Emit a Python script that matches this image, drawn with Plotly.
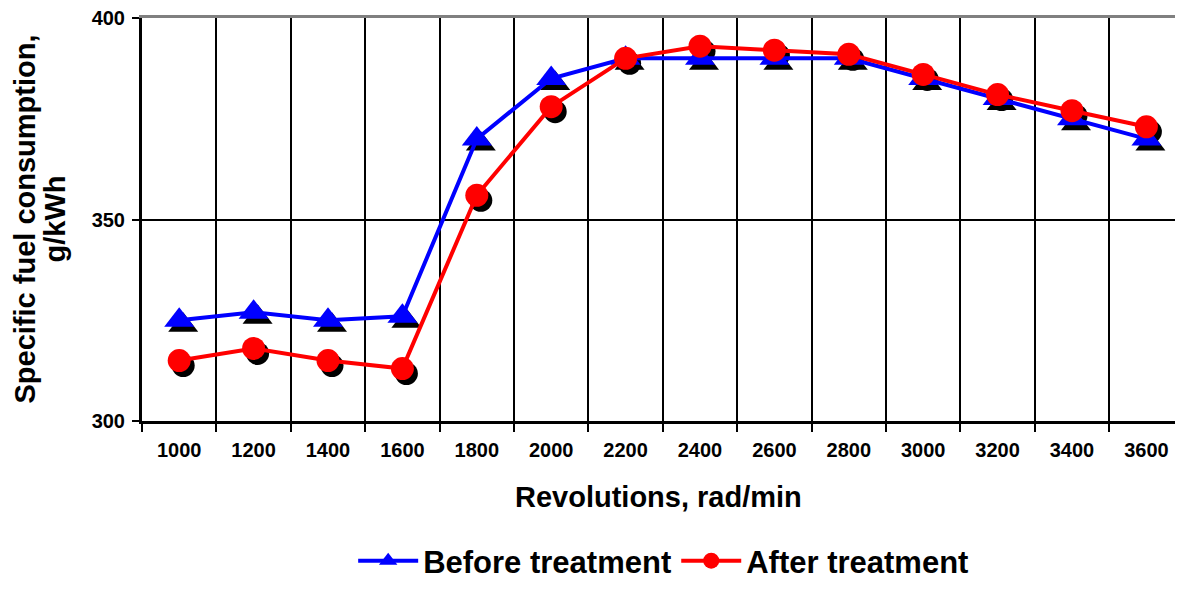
import plotly.graph_objects as go

revolutions = ["1000", "1200", "1400", "1600", "1800", "2000", "2200",
               "2400", "2600", "2800", "3000", "3200", "3400", "3600"]
before_treatment = [325, 327, 325, 326, 370, 385, 390, 390, 390, 390, 385, 380, 375, 370]
after_treatment = [315, 318, 315, 313, 356, 378, 390, 393, 392, 391, 386, 381, 377, 373]

FONT = "Liberation Sans"
W, H = 1167, 572
ML, MR, MT, MB = 134, 0, 10, 159
plot_w = W - ML - MR
plot_h = H - MT - MB
n = len(revolutions)
cat_px = 74.4                       # width of one category in pixels
x_hi = -0.5 + plot_w / cat_px       # right end of category range
ymin, ymax = 300, 400
# shadow offset in pixels (converted to axis units)
dx_px, dy_px = 4, 5
dx = dx_px / cat_px
dy = dy_px * (ymax - ymin) / plot_h

fig = go.Figure()

# shadows (base axes, ranges shifted)
fig.add_trace(go.Scatter(x=revolutions, y=before_treatment, mode="markers",
                         marker=dict(symbol="triangle-up", size=26, color="black"),
                         xaxis="x", yaxis="y", showlegend=False, hoverinfo="skip"))
fig.add_trace(go.Scatter(x=revolutions, y=after_treatment, mode="markers",
                         marker=dict(symbol="circle", size=23, color="black"),
                         xaxis="x", yaxis="y", showlegend=False, hoverinfo="skip"))

# main series (overlay axes)
fig.add_trace(go.Scatter(x=revolutions, y=before_treatment, mode="lines+markers",
                         name="Before treatment",
                         line=dict(color="#0000FF", width=4),
                         marker=dict(symbol="triangle-up", size=26, color="#0000FF"),
                         xaxis="x2", yaxis="y2"))
fig.add_trace(go.Scatter(x=revolutions, y=after_treatment, mode="lines+markers",
                         name="After treatment",
                         line=dict(color="#FF0000", width=4),
                         marker=dict(symbol="circle", size=23, color="#FF0000"),
                         xaxis="x2", yaxis="y2"))

tickfont = dict(family=FONT, size=20, color="black", weight="bold")
titlefont = dict(family=FONT, size=29, color="black", weight="bold")

fig.update_layout(
    width=W, height=H,
    margin=dict(l=ML, r=MR, t=MT, b=MB, autoexpand=False),
    paper_bgcolor="white", plot_bgcolor="white",
    font=dict(family=FONT, color="black"),
    xaxis=dict(type="category", range=[-0.5 - dx, x_hi - dx],
               side="top", showline=True, linecolor="#808080", linewidth=3,
               showticklabels=False, ticks="", showgrid=False, zeroline=False,
               automargin=False),
    yaxis=dict(range=[ymin + dy, ymax + dy], showline=False, showticklabels=False,
               ticks="", showgrid=False, zeroline=False, automargin=False),
    xaxis2=dict(type="category", overlaying="x", anchor="y2", side="bottom",
                range=[-0.5, x_hi], tickson="boundaries",
                showline=True, linecolor="black", linewidth=3,
                ticks="outside", ticklen=8, tickwidth=2, tickcolor="black",
                showgrid=True, gridcolor="black", gridwidth=2,
                tickfont=tickfont, ticklabelstandoff=9,
                zeroline=False, automargin=False),
    yaxis2=dict(overlaying="y", anchor="x2", side="left",
                range=[ymin, ymax], tickvals=[300, 350, 400],
                showline=True, linecolor="black", linewidth=3,
                ticks="outside", ticklen=7, tickwidth=2, tickcolor="black",
                showgrid=True, gridcolor="black", gridwidth=2,
                tickfont=tickfont, ticklabelstandoff=3,
                ticklabeloverflow="allow",
                zeroline=False, automargin=False),
    legend=dict(orientation="h", x=0.505, xanchor="center",
                y=-140 / plot_h, yanchor="middle",
                font=dict(family=FONT, size=31, color="black", weight="bold"),
                itemwidth=60, bgcolor="rgba(0,0,0,0)"),
    showlegend=True,
    annotations=[
        dict(text="Revolutions, rad/min", xref="paper", yref="paper",
             x=0.5, y=0, xanchor="center", yanchor="middle", yshift=-76,
             showarrow=False, font=titlefont),
        dict(text="Specific fuel consumption,", xref="paper", yref="paper",
             x=0, y=0.5, xanchor="center", yanchor="middle", xshift=-118,
             textangle=-90, showarrow=False, font=titlefont),
        dict(text="g/kWh", xref="paper", yref="paper",
             x=0, y=0.5, xanchor="center", yanchor="middle", xshift=-88,
             textangle=-90, showarrow=False, font=titlefont),
    ],
)

fig.write_html("out.html")
